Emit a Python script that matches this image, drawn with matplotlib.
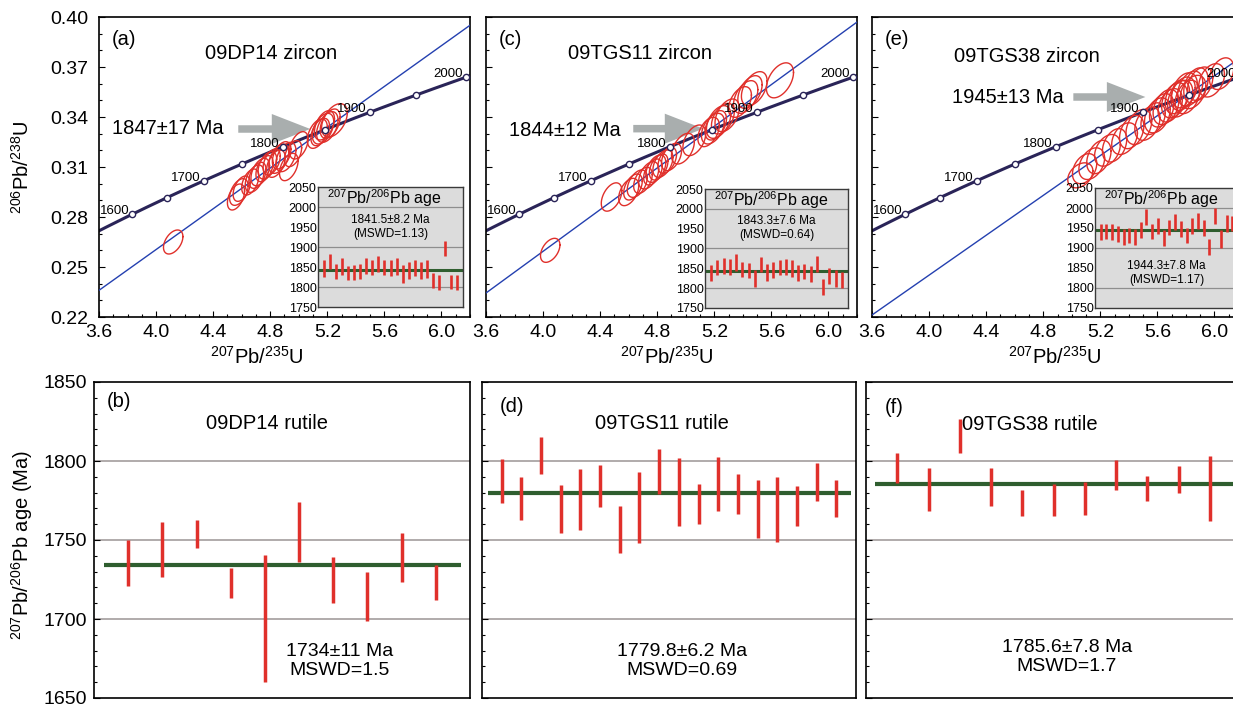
import numpy as np
import matplotlib
matplotlib.use('Agg')
from matplotlib import pyplot as plt
from matplotlib.patches import FancyArrow
from matplotlib.ticker import MultipleLocator, FormatStrFormatter

plt.rcParams['font.family'] = ['Liberation Sans', 'DejaVu Sans']
plt.rcParams['mathtext.fontset'] = 'custom'
plt.rcParams['mathtext.rm'] = 'Liberation Sans'
plt.rcParams['mathtext.default'] = 'regular'

W, H = 1233, 707
RED = '#e0302b'
NAVY = '#2a2458'
BLUE = '#2440b0'
GREEN = '#2f5e2f'
GRID = '#a39d9d'
ARROW = '#a9aeae'

# U decay constants (1/yr)
LAMBDA_238 = 1.55125e-10
LAMBDA_235 = 9.8485e-10

concordia_marks = [1600, 1650, 1700, 1750, 1800, 1850, 1900, 1950, 2000]
concordia_labels = [1600, 1700, 1800, 1900, 2000]

# ---- 09DP14 zircon: 207Pb/235U, 206Pb/238U, 2s errors
dp14_x = [4.12, 4.56, 4.58, 4.60, 4.66, 4.69, 4.71, 4.73, 4.76, 4.78, 4.81, 4.84, 4.86,
          4.88, 4.91, 4.93, 4.96, 5.00, 5.13, 5.15, 5.17, 5.18, 5.20, 5.22, 5.25]
dp14_y = [0.265, 0.292, 0.295, 0.297, 0.301, 0.303, 0.305, 0.307, 0.309, 0.311, 0.313, 0.312, 0.315,
          0.317, 0.316, 0.310, 0.318, 0.323, 0.330, 0.331, 0.333, 0.335, 0.334, 0.336, 0.338]
dp14_sx = [0.068, 0.060, 0.065, 0.060, 0.060, 0.065, 0.060, 0.065, 0.060, 0.065, 0.060, 0.065, 0.070,
           0.065, 0.070, 0.065, 0.060, 0.065, 0.070, 0.065, 0.075, 0.070, 0.075, 0.070, 0.090]
dp14_sy = [0.0072, 0.0078, 0.0080, 0.0076, 0.0078, 0.0082, 0.0078, 0.0082, 0.0078, 0.0082, 0.0078, 0.0082, 0.0088,
           0.0082, 0.0088, 0.0082, 0.0078, 0.0082, 0.0088, 0.0082, 0.0092, 0.0088, 0.0092, 0.0088, 0.0100]
dp14_pb_age = [1846, 1863.5, 1839, 1850.5, 1835, 1836.5, 1839.5, 1852.5, 1848.5, 1857, 1848.5, 1847.5,
               1851, 1833, 1842, 1847, 1841, 1845.5, 1816, 1811, 1896, 1813, 1812]
dp14_pb_err = [21, 18.5, 18.5, 21.5, 18.5, 18.5, 19, 19.5, 19.5, 20, 19.5, 20.5,
               20.5, 22, 21, 20, 20.5, 22.5, 19, 18, 19, 17, 18.5]

# ---- 09TGS11 zircon
tgs11_x = [4.05, 4.48, 4.60, 4.63, 4.66, 4.70, 4.74, 4.77, 4.79, 4.81, 4.84, 4.87, 4.90,
           4.98, 5.06, 5.16, 5.19, 5.21, 5.23, 5.26, 5.29, 5.38, 5.42, 5.45, 5.48, 5.66]
tgs11_y = [0.260, 0.292, 0.295, 0.298, 0.300, 0.302, 0.305, 0.307, 0.309, 0.310, 0.312, 0.314, 0.316,
           0.321, 0.326, 0.331, 0.333, 0.335, 0.337, 0.339, 0.341, 0.349, 0.352, 0.355, 0.357, 0.362]
tgs11_sx = [0.068, 0.072, 0.070, 0.065, 0.070, 0.065, 0.070, 0.065, 0.070, 0.065, 0.070, 0.065, 0.070,
            0.080, 0.080, 0.075, 0.080, 0.075, 0.085, 0.080, 0.085, 0.080, 0.085, 0.085, 0.090, 0.095]
tgs11_sy = [0.0072, 0.0085, 0.0082, 0.0078, 0.0082, 0.0078, 0.0082, 0.0078, 0.0082, 0.0078, 0.0082, 0.0078, 0.0082,
            0.0092, 0.0092, 0.0088, 0.0092, 0.0088, 0.0098, 0.0092, 0.0098, 0.0092, 0.0098, 0.0098, 0.0102, 0.0105]
tgs11_pb_age = [1838.5, 1851.5, 1855.5, 1853, 1865, 1847, 1844, 1825.5, 1859.5, 1839.5, 1845,
                1852, 1852.5, 1850, 1837.5, 1842, 1835, 1861, 1803, 1831.5, 1825, 1821]
tgs11_pb_err = [19.5, 19.5, 19.5, 20, 21, 20, 19, 21.5, 19.5, 20.5, 20,
                20, 20.5, 22, 20.5, 19, 20, 21, 20, 20.5, 22, 21]

# ---- 09TGS38 zircon
tgs38_x = [5.06, 5.09, 5.14, 5.19, 5.25, 5.30, 5.37, 5.42, 5.47, 5.53, 5.57, 5.60, 5.63, 5.66,
           5.69, 5.72, 5.74, 5.76, 5.78, 5.79, 5.81, 5.83, 5.85, 5.87, 5.90, 5.98, 6.05]
tgs38_y = [0.305, 0.309, 0.312, 0.316, 0.320, 0.323, 0.327, 0.331, 0.334, 0.336, 0.339, 0.341, 0.344, 0.346,
           0.347, 0.350, 0.352, 0.351, 0.354, 0.356, 0.352, 0.357, 0.355, 0.359, 0.360, 0.362, 0.366]
tgs38_sx = [0.088, 0.085, 0.090, 0.085, 0.090, 0.085, 0.090, 0.085, 0.090, 0.088, 0.085, 0.090, 0.085, 0.090,
            0.085, 0.090, 0.085, 0.088, 0.085, 0.090, 0.085, 0.088, 0.090, 0.085, 0.088, 0.090, 0.085]
tgs38_sy = [0.0075, 0.0090, 0.0095, 0.0100, 0.0095, 0.0100, 0.0095, 0.0100, 0.0105, 0.0100, 0.0095, 0.0105, 0.0100, 0.0105,
            0.0100, 0.0105, 0.0100, 0.0110, 0.0100, 0.0105, 0.0100, 0.0105, 0.0100, 0.0105, 0.0100, 0.0100, 0.0095]
tgs38_pb_age = [1939, 1941, 1939.5, 1935, 1927.5, 1931, 1927, 1945, 1977, 1941, 1955, 1926,
                1951.5, 1964, 1947, 1931, 1955, 1968, 1951, 1902.5, 1980.5, 1923, 1961, 1961.5]
tgs38_pb_err = [20, 19, 20.5, 20, 20.5, 19.5, 20.5, 19.5, 20, 18, 20, 20,
                19.5, 20, 20, 19.5, 20, 20, 20, 20.5, 19.5, 22, 21, 18.5]

# ---- rutile 207Pb/206Pb ages and 2s errors
dp14_rt_age = [1735.5, 1743.8, 1753.7, 1722.8, 1700.4, 1755.1, 1724.9, 1714.3, 1738.9, 1723.1]
dp14_rt_err = [14.6, 17.4, 9.0, 9.3, 40.1, 19.2, 14.6, 15.6, 15.3, 11.1]
tgs11_rt_age = [1787.4, 1776.3, 1803.5, 1769.5, 1775.7, 1784.0, 1756.7, 1770.5, 1793.6,
                1780.5, 1773.0, 1785.5, 1779.2, 1769.5, 1769.2, 1771.6, 1787.0, 1776.3]
tgs11_rt_err = [13.7, 13.7, 12.0, 15.3, 19.5, 13.4, 14.9, 22.6, 14.2,
                21.5, 12.7, 17.2, 12.6, 18.5, 20.7, 12.6, 12.0, 11.6]
tgs38_rt_age = [1795.5, 1782.2, 1815.8, 1783.6, 1773.6, 1775.3, 1776.3, 1791.0, 1782.6, 1788.2, 1782.7]
tgs38_rt_err = [9.4, 13.6, 10.7, 11.8, 8.1, 10.0, 10.2, 9.4, 8.1, 8.4, 20.4]

zircon_upper = [1847, 1844, 1945]
zircon_upper_text = ['1847±17 Ma', '1844±12 Ma', '1945±13 Ma']
discordia_y_at_36 = [0.236, 0.2344, 0.2212]
zircon_mean = [1841.5, 1843.3, 1944.3]
zircon_mean_text = ['1841.5±8.2 Ma\n(MSWD=1.13)', '1843.3±7.6 Ma\n(MSWD=0.64)', '1944.3±7.8 Ma\n(MSWD=1.17)']
rutile_mean = [1734, 1779.8, 1785.6]
rutile_mean_text = ['1734±11 Ma\nMSWD=1.5', '1779.8±6.2 Ma\nMSWD=0.69', '1785.6±7.8 Ma\nMSWD=1.7']

fig = plt.figure(figsize=(W / 100, H / 100), dpi=100)


def px_axes(left, top, right, bottom):
    return fig.add_axes([left / W, 1 - bottom / H, (right - left) / W, (bottom - top) / H])


def concordia_xy(t_ma):
    t = np.asarray(t_ma, dtype=float) * 1e6
    return np.exp(LAMBDA_235 * t) - 1, np.exp(LAMBDA_238 * t) - 1


def error_ellipse(ax, x, y, sx, sy, rho):
    th = np.linspace(0, 2 * np.pi, 120)
    ex = x + sx * np.cos(th)
    ey = y + sy * (rho * np.cos(th) + np.sqrt(1 - rho ** 2) * np.sin(th))
    ax.plot(ex, ey, color=RED, lw=1.0, zorder=4)


def frame(ax):
    for s in ax.spines.values():
        s.set_linewidth(1.2)
        s.set_color('black')


def zircon_panel(i, box, inset_box, tag, title, ex, ey, esx, esy, rho, pb_age, pb_err,
                 arrow, title_pos, age_pos, stats_y, ylabels):
    ax = px_axes(*box)
    frame(ax)
    ax.set_xlim(3.6, 6.2)
    ax.set_ylim(0.22, 0.40)
    ax.set_xticks([3.6, 4.0, 4.4, 4.8, 5.2, 5.6, 6.0])
    ax.set_yticks([0.22, 0.25, 0.28, 0.31, 0.34, 0.37, 0.40])
    ax.xaxis.set_major_formatter(FormatStrFormatter('%.1f'))
    ax.yaxis.set_major_formatter(FormatStrFormatter('%.2f'))
    ax.xaxis.set_minor_locator(MultipleLocator(0.1))
    ax.yaxis.set_minor_locator(MultipleLocator(0.01))
    ax.tick_params(which='both', direction='in', top=False, right=False, width=0.8)
    ax.tick_params(which='major', length=4, labelsize=14)
    ax.tick_params(which='minor', length=2.5)
    ax.tick_params(axis='x', pad=5)
    ax.tick_params(axis='y', pad=8, labelleft=ylabels)

    # concordia curve with 50 Ma marks
    cx, cy = concordia_xy(np.linspace(1500, 2100, 400))
    ax.plot(cx, cy, color=NAVY, lw=2.2, zorder=2)
    mx, my = concordia_xy(concordia_marks)
    ax.plot(mx, my, 'o', ms=4.5, mfc='white', mec=NAVY, mew=1.0, zorder=5)
    for age in concordia_labels:
        lx, ly = concordia_xy(age)
        ax.annotate(str(age), (lx, ly), xytext=(-2, 0), textcoords='offset points',
                    ha='right', va='baseline', fontsize=9.5, zorder=6)

    # discordia through the upper intercept
    ux, uy = concordia_xy(zircon_upper[i])
    y0 = discordia_y_at_36[i]
    slope = (uy - y0) / (ux - 3.6)
    dx = np.array([3.6, 6.4])
    ax.plot(dx, y0 + slope * (dx - 3.6), color=BLUE, lw=1.0, zorder=3)

    for x, y, sx, sy in zip(ex, ey, esx, esy):
        error_ellipse(ax, x, y, sx, sy, rho)

    tail, tip, ay = arrow
    ax.add_patch(FancyArrow(tail, ay, tip - tail, 0, width=0.0045, head_width=0.018,
                            head_length=0.27, length_includes_head=True,
                            color=ARROW, lw=0, zorder=2.5))

    ax.text(0.035, 0.925, tag, transform=ax.transAxes, fontsize=14.5, ha='left', va='center')
    ax.text(title_pos[0], title_pos[1], title, transform=ax.transAxes, fontsize=14.5,
            ha='center', va='center')
    ax.text(age_pos[0], age_pos[1], zircon_upper_text[i], transform=ax.transAxes, fontsize=14.5,
            ha='center', va='center')

    # 207Pb/206Pb weighted-mean inset
    ins = px_axes(*inset_box)
    ins.set_facecolor('#dcdcdc')
    for s in ins.spines.values():
        s.set_linewidth(1.0)
        s.set_color('#3a3a3a')
    n = len(pb_age)
    age = np.array(pb_age)
    err = np.array(pb_err)
    for g in (1800, 1900, 2000):
        ins.axhline(g, color='#8e8e8e', lw=0.9, zorder=1)
    ins.axhline(zircon_mean[i], color=GREEN, lw=2.2, zorder=2)
    ins.vlines(np.arange(n), age - err, age + err, color=RED, lw=1.9, zorder=3)
    ins.set_xlim(-1, n)
    ins.set_ylim(1750, 2050)
    ins.set_xticks([])
    ins.set_yticks(range(1750, 2051, 50))
    ins.tick_params(axis='y', length=0, pad=1, labelsize=9)
    ins.text(0.06, 0.905, r'$^{207}$Pb/$^{206}$Pb age', transform=ins.transAxes,
             fontsize=11.5, ha='left', va='center')
    ins.text(0.5, stats_y, zircon_mean_text[i], transform=ins.transAxes, fontsize=8.5,
             ha='center', va='center', linespacing=1.2)
    return ax


def rutile_panel(i, box, tag, title, age, err, tag_pos, title_pos, stats_pos, ylabels):
    ax = px_axes(*box)
    frame(ax)
    n = len(age)
    age = np.array(age)
    err = np.array(err)
    ax.set_xlim(0, n + 1)
    ax.set_ylim(1650, 1850)
    ax.set_xticks([])
    ax.set_yticks([1650, 1700, 1750, 1800, 1850])
    ax.yaxis.set_minor_locator(MultipleLocator(10))
    ax.tick_params(which='both', direction='in', width=0.8)
    ax.tick_params(which='major', length=4, labelsize=14, pad=5)
    ax.tick_params(which='minor', length=2.5)
    ax.tick_params(axis='y', labelleft=ylabels)
    for g in (1700, 1750, 1800):
        ax.axhline(g, color=GRID, lw=1.2, zorder=1)
    ax.hlines(rutile_mean[i], 0.3, n + 0.75, color=GREEN, lw=3.0, zorder=2)
    ax.vlines(np.arange(1, n + 1), age - err, age + err, color=RED, lw=2.5, zorder=3)
    ax.text(tag_pos[0], tag_pos[1], tag, transform=ax.transAxes, fontsize=14.5, ha='left', va='center')
    ax.text(title_pos[0], title_pos[1], title, transform=ax.transAxes, fontsize=14.5,
            ha='center', va='center')
    ax.text(stats_pos[0], stats_pos[1], rutile_mean_text[i], transform=ax.transAxes, fontsize=14,
            ha='center', va='center', linespacing=1.15)
    return ax


zircon_panel(0, (99, 17, 470, 317), (318, 187, 463, 307), '(a)', '09DP14 zircon',
             dp14_x, dp14_y, dp14_sx, dp14_sy, 0.45, dp14_pb_age, dp14_pb_err,
             (4.576, 5.081, 0.3328), (0.464, 0.877), (0.186, 0.627), 0.67, True)
zircon_panel(1, (486, 17, 857, 317), (705, 189, 848, 308), '(c)', '09TGS11 zircon',
             tgs11_x, tgs11_y, tgs11_sx, tgs11_sy, 0.45, tgs11_pb_age, tgs11_pb_err,
             (4.632, 5.123, 0.333), (0.415, 0.877), (0.213, 0.62), 0.675, False)
zircon_panel(2, (872, 17, 1243, 317), (1095, 188, 1238, 308), '(e)', '09TGS38 zircon',
             tgs38_x, tgs38_y, tgs38_sx, tgs38_sy, 0.35, tgs38_pb_age, tgs38_pb_err,
             (5.011, 5.516, 0.352), (0.418, 0.867), (0.367, 0.733), 0.29, False)

rutile_panel(0, (94, 382, 470, 698), '(b)', '09DP14 rutile', dp14_rt_age, dp14_rt_err,
             (0.035, 0.937), (0.46, 0.87), (0.652, 0.116), True)
rutile_panel(1, (482, 382, 856, 698), '(d)', '09TGS11 rutile', tgs11_rt_age, tgs11_rt_err,
             (0.048, 0.921), (0.481, 0.87), (0.535, 0.117), False)
rutile_panel(2, (866, 382, 1241, 698), '(f)', '09TGS38 rutile', tgs38_rt_age, tgs38_rt_err,
             (0.051, 0.918), (0.437, 0.864), (0.536, 0.131), False)

# axis titles
xlab = r'$^{207}$Pb/$^{235}$U'
for xc in (257, 667, 1055):
    fig.text(xc / W, 1 - 357 / H, xlab, fontsize=14.5, ha='center', va='center')
fig.text(22 / W, 1 - 167 / H, r'$^{206}$Pb/$^{238}$U', fontsize=14.5, rotation=90,
         ha='center', va='center')
fig.text(22 / W, 1 - 545 / H, r'$^{207}$Pb/$^{206}$Pb age (Ma)', fontsize=14.5, rotation=90,
         ha='center', va='center')

fig.savefig('out.png', dpi=100)
